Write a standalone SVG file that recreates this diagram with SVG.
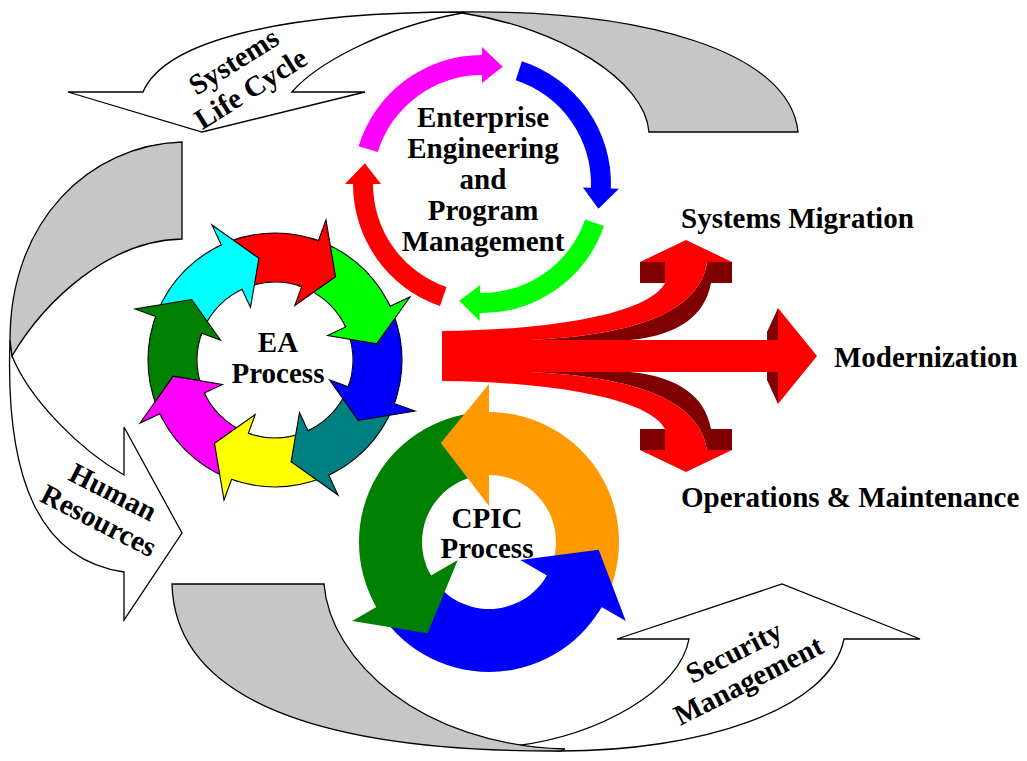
<svg xmlns="http://www.w3.org/2000/svg" width="1027" height="761" viewBox="0 0 1027 761">
<style>
.ribbon{fill:#fff;stroke:#000;stroke-width:1.3;stroke-linejoin:miter}
.back{fill:#c6c6c6;stroke:#000;stroke-width:1.3;stroke-linejoin:miter}
.lbl{font-family:"Liberation Serif","Times New Roman",serif;font-weight:bold;font-size:29px;fill:#000}
.mid{text-anchor:middle}
.ol{stroke:#000;stroke-width:1.1;stroke-linejoin:miter}
.circ{fill:none;stroke:#000;stroke-width:1.1}
.r{fill:#ff0000}
.dr{fill:#800000}
</style>
<rect x="0" y="0" width="1027" height="761" fill="#fff"/>

<g id="connectors">
  <g id="systems-life-cycle">
    <path class="ribbon" d="M462,12 C285,12 165,40 143,92 L68,92 L202,132 L365,92 L292,92 C315,65 380,28 462,13 Z"/>
    <path class="back" d="M462,12 C640,10 790,50 798,132 L649,132 C645,80 560,28 462,13 Z"/>
    <text class="lbl mid" transform="translate(242.5,75.5) rotate(-32)"><tspan x="0" y="-7">Systems</tspan><tspan x="0" y="25">Life Cycle</tspan></text>
  </g>
  <g id="human-resources">
    <path class="ribbon" d="M10,340 C5,480 40,560 124,572 L124,620 L182,533 L124,427 L124,475 C80,450 30,400 12,356 Z"/>
    <path class="back" d="M182,142 C90,145 10,220 10,340 L12,356 C45,300 110,240 182,239 Z"/>
    <text class="lbl mid" transform="translate(106,506) rotate(27)"><tspan x="0" y="-6">Human</tspan><tspan x="0" y="26">Resources</tspan></text>
  </g>
  <g id="security-management">
    <path class="ribbon" d="M560,751 C700,751 830,710 844,639 L920,639 L782,584 L617,639 L689,639 C680,690 600,735 515,746 Z"/>
    <path class="back" d="M172,584 C175,700 320,752 560,751 L565,749 C420,745 330,660 324,584 Z"/>
    <text class="lbl mid" transform="translate(741,666) rotate(-27)"><tspan x="0" y="-6">Security</tspan><tspan x="0" y="26">Management</tspan></text>
  </g>
</g>

<g id="ea-process">
  <path fill="#ff00ff" d="M231.6,479.3 A127,127 0 0 1 159.9,413.7 L204.3,393 A78,78 0 0 0 248.3,433.3 Z"/>
  <path fill="#008000" d="M159.9,413.7 A127,127 0 0 1 155.7,316.6 L201.7,333.3 A78,78 0 0 0 204.3,393 Z"/>
  <path fill="#00ffff" d="M155.7,316.6 A127,127 0 0 1 221.3,244.9 L242,289.3 A78,78 0 0 0 201.7,333.3 Z"/>
  <path fill="#ff0000" d="M221.3,244.9 A127,127 0 0 1 318.4,240.7 L301.7,286.7 A78,78 0 0 0 242,289.3 Z"/>
  <path fill="#00ff00" d="M318.4,240.7 A127,127 0 0 1 390.1,306.3 L345.7,327 A78,78 0 0 0 301.7,286.7 Z"/>
  <path fill="#0000ff" d="M390.1,306.3 A127,127 0 0 1 394.3,403.4 L348.3,386.7 A78,78 0 0 0 345.7,327 Z"/>
  <path fill="#008080" d="M394.3,403.4 A127,127 0 0 1 328.7,475.1 L308,430.7 A78,78 0 0 0 348.3,386.7 Z"/>
  <path fill="#ffff00" d="M328.7,475.1 A127,127 0 0 1 231.6,479.3 L248.3,433.3 A78,78 0 0 0 308,430.7 Z"/>
  <circle class="circ" cx="275" cy="360" r="127"/>
  <circle class="circ" cx="275" cy="360" r="78"/>
  <path class="ol" fill="#ff00ff" d="M162.9,419.6 A127,127 0 0 1 159.9,413.7 L140,423 L173.3,376.1 L222.4,384.5 L204.3,393 A78,78 0 0 0 206.1,396.6"/>
  <path class="ol" fill="#008000" d="M153.6,322.9 A127,127 0 0 1 155.7,316.6 L135,309 L191.7,299.5 L220.5,340.2 L201.7,333.3 A78,78 0 0 0 200.4,337.2"/>
  <path class="ol" fill="#00ffff" d="M215.4,247.9 A127,127 0 0 1 221.3,244.9 L212,225 L258.9,258.3 L250.5,307.4 L242,289.3 A78,78 0 0 0 238.4,291.1"/>
  <path class="ol" fill="#ff0000" d="M312.1,238.6 A127,127 0 0 1 318.4,240.7 L326,220 L335.5,276.7 L294.8,305.5 L301.7,286.7 A78,78 0 0 0 297.8,285.4"/>
  <path class="ol" fill="#00ff00" d="M387.1,300.4 A127,127 0 0 1 390.1,306.3 L410,297 L376.7,343.9 L327.6,335.5 L345.7,327 A78,78 0 0 0 343.9,323.4"/>
  <path class="ol" fill="#0000ff" d="M396.4,397.1 A127,127 0 0 1 394.3,403.4 L415,411 L358.3,420.5 L329.5,379.8 L348.3,386.7 A78,78 0 0 0 349.6,382.8"/>
  <path class="ol" fill="#008080" d="M334.6,472.1 A127,127 0 0 1 328.7,475.1 L338,495 L291.1,461.7 L299.5,412.6 L308,430.7 A78,78 0 0 0 311.6,428.9"/>
  <path class="ol" fill="#ffff00" d="M237.9,481.4 A127,127 0 0 1 231.6,479.3 L224,500 L214.5,443.3 L255.2,414.5 L248.3,433.3 A78,78 0 0 0 252.2,434.6"/>
  <text class="lbl mid" x="278" y="352">EA</text>
  <text class="lbl mid" x="278" y="383">Process</text>
</g>

<g id="eepm">
  <path fill="#ff00ff" d="M358.6,146.3 A129,129 0 0 1 482,55 L482,47 L502.7,66.8 L482,83 L482,75 A109,109 0 0 0 377.8,152.1 Z"/>
  <path fill="#0000ff" d="M521.9,61.3 A129,129 0 0 1 610.9,188.5 L618.9,188.8 L598.4,208.7 L582.9,187.5 L590.9,187.8 A109,109 0 0 0 515.7,80.3 Z"/>
  <path fill="#00ff00" d="M604,226 A129,129 0 0 1 479.7,313 L479.6,321 L459.3,300.8 L480.2,285 L480.1,293 A109,109 0 0 0 585.1,219.5 Z"/>
  <path fill="#ff0000" d="M440,306 A129,129 0 0 1 353,184 L345,184 L364.8,163.3 L381,184 L373,184 A109,109 0 0 0 446.5,287.1 Z"/>
  <text class="lbl mid"><tspan x="483" y="127">Enterprise</tspan><tspan x="483" y="158">Engineering</tspan><tspan x="483" y="189">and</tspan><tspan x="483" y="220">Program</tspan><tspan x="483" y="251">Management</tspan></text>
</g>

<g id="cpic-process">
  <path fill="#ff9900" d="M601.6,607 A130,130 0 0 0 489,412 L489,475 A67,67 0 0 1 547,575.5 Z"/>
  <path fill="#008000" d="M489,412 A130,130 0 0 0 376.4,607 L431,575.5 A67,67 0 0 1 489,475 Z"/>
  <path fill="#0000ff" d="M376.4,607 A130,130 0 0 0 601.6,607 L547,575.5 A67,67 0 0 1 431,575.5 Z"/>
  <path fill="#ff9900" d="M495.8,412.2 A130,130 0 0 0 489,412 L489,384 L440.8,443.1 L489,506 L489,475 A67,67 0 0 1 492.5,475.1 Z"/>
  <path fill="#008000" d="M373.2,601 A130,130 0 0 0 376.4,607 L352.2,621 L427.5,633.2 L457.8,560 L431,575.5 A67,67 0 0 1 429.3,572.4 Z"/>
  <path fill="#0000ff" d="M598,612.8 A130,130 0 0 0 601.6,607 L625.8,621 L598.7,549.7 L520.2,560 L547,575.5 A67,67 0 0 1 545.2,578.5 Z"/>
  <text class="lbl mid" x="487" y="528">CPIC</text>
  <text class="lbl mid" x="487" y="558">Process</text>
</g>

<g id="outcomes">
  <rect class="dr" x="640" y="262" width="25" height="21"/>
  <path class="dr" d="M707,262 L732,262 L732,283 L711,283 C705,315 680,335 630,340 L530,340 C640,335 700,310 707,262 Z"/>
  <rect class="dr" x="640" y="429" width="25" height="21"/>
  <path class="dr" d="M707,450 L732,450 L732,429 L711,429 C705,397 680,377 630,372 L530,372 C640,377 700,402 707,450 Z"/>
  <path class="dr" d="M767,332 L778,308 L778,340 L767,340 Z"/>
  <path class="dr" d="M767,372 L778,372 L778,404 L767,380 Z"/>
  <path class="r" d="M442,331 C560,330 650,312 665,283 L665,262 L707,262 C700,310 640,335 530,340 L778,340 L778,372 L530,372 C640,377 700,402 707,450 L665,450 L665,429 C650,400 560,382 442,381 Z"/>
  <path class="r" d="M640,262 L686,240 L732,262 Z"/>
  <path class="r" d="M640,450 L686,472 L732,450 Z"/>
  <path class="r" d="M778,308 L817,356 L778,404 Z"/>
</g>

<g id="systems-migration"><text class="lbl" x="681" y="228">Systems Migration</text></g>
<g id="modernization"><text class="lbl" x="834" y="367">Modernization</text></g>
<g id="operations-maintenance"><text class="lbl" x="681" y="507">Operations &amp; Maintenance</text></g>
</svg>
